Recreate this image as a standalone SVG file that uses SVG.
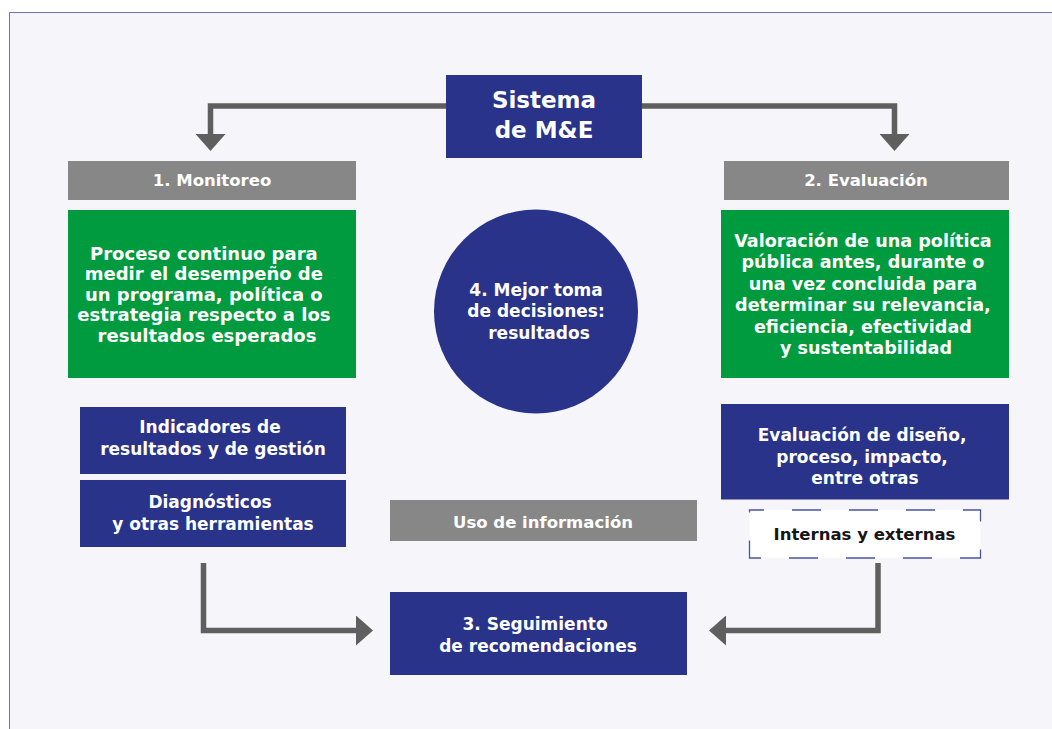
<svg xmlns="http://www.w3.org/2000/svg" width="1052" height="729" viewBox="0 0 1052 729">
<defs>
<style>
.navy{fill:#283389}
.green{fill:#009b3e}
.grayh{fill:#878787}
.t{font-family:"DejaVu Sans","Liberation Sans",sans-serif;font-weight:bold;fill:#ffffff;text-anchor:middle}
.dark{fill:#161616}
.conn{fill:none;stroke:#5f5f5f;stroke-width:5.5;stroke-linejoin:miter}
</style>
<marker id="ah" markerUnits="userSpaceOnUse" markerWidth="18" markerHeight="30" refX="0" refY="15" orient="auto">
<path d="M0,0 L17,15 L0,30 Z" fill="#5f5f5f"/>
</marker>
</defs>
<rect x="0" y="0" width="1052" height="729" fill="#ffffff"/>
<rect x="9" y="12" width="1043" height="717" fill="#f5f5fa"/>
<path d="M9.5,729 V12.5 H1052" fill="none" stroke="#6a72bb" stroke-width="1"/>

<g id="connectors">
<path class="conn" d="M446,106 H210.5 V134" marker-end="url(#ah)"/>
<path class="conn" d="M642,106 H894.5 V134" marker-end="url(#ah)"/>
<path class="conn" d="M203.5,563 V630.5 H356" marker-end="url(#ah)"/>
<path class="conn" d="M878,563 V630.5 H726" marker-end="url(#ah)"/>
</g>

<g id="sistema">
<rect class="navy" x="446" y="75" width="196" height="83"/>
<text class="t" x="544" y="108" font-size="23">Sistema</text>
<text class="t" x="544" y="138" font-size="23">de M&amp;E</text>
</g>

<g id="monitoreo-header">
<rect class="grayh" x="68" y="161" width="288" height="39"/>
<text class="t" x="212" y="186" font-size="16.5">1. Monitoreo</text>
</g>

<g id="evaluacion-header">
<rect class="grayh" x="724" y="161" width="285" height="39"/>
<text class="t" x="866" y="186" font-size="16.5">2. Evaluación</text>
</g>

<g id="monitoreo-def">
<rect class="green" x="68" y="210" width="288" height="168"/>
<text class="t" font-size="18">
<tspan x="207" y="260">Proceso continuo para</tspan>
<tspan x="207" y="280.4">medir el desempeño de</tspan>
<tspan x="207" y="300.8">un programa, política o</tspan>
<tspan x="207" y="321.2">estrategia respecto a los</tspan>
<tspan x="207" y="341.6">resultados esperados</tspan>
</text>
</g>

<g id="evaluacion-def">
<rect class="green" x="721" y="210" width="288" height="168"/>
<text class="t" font-size="17.6">
<tspan x="866" y="246.7">Valoración de una política</tspan>
<tspan x="866" y="268.2">pública antes, durante o</tspan>
<tspan x="866" y="289.7">una vez concluida para</tspan>
<tspan x="866" y="311.2">determinar su relevancia,</tspan>
<tspan x="866" y="332.7">eficiencia, efectividad</tspan>
<tspan x="866" y="354.2">y sustentabilidad</tspan>
</text>
</g>

<g id="decisiones">
<circle class="navy" cx="536" cy="311.5" r="102"/>
<text class="t" font-size="17">
<tspan x="539" y="296">4. Mejor toma</tspan>
<tspan x="539" y="317.3">de decisiones:</tspan>
<tspan x="539" y="338.5">resultados</tspan>
</text>
</g>

<g id="indicadores">
<rect class="navy" x="80" y="407" width="266" height="67"/>
<text class="t" font-size="17">
<tspan x="213" y="432.7">Indicadores de</tspan>
<tspan x="213" y="455">resultados y de gestión</tspan>
</text>
</g>

<g id="diagnosticos">
<rect class="navy" x="80" y="480" width="266" height="67"/>
<text class="t" font-size="17">
<tspan x="213" y="507.7">Diagnósticos</tspan>
<tspan x="213" y="530">y otras herramientas</tspan>
</text>
</g>

<g id="tipos-evaluacion">
<rect class="navy" x="721" y="404" width="288" height="95.5"/>
<text class="t" font-size="17">
<tspan x="865" y="441">Evaluación de diseño,</tspan>
<tspan x="865" y="462.5">proceso, impacto,</tspan>
<tspan x="865" y="484">entre otras</tspan>
</text>
</g>

<g id="internas-externas">
<rect x="749.5" y="510" width="231" height="48" fill="#ffffff" stroke="#4a53a6" stroke-width="1.3" stroke-dasharray="29 28" stroke-dashoffset="14.5"/>
<text class="t dark" x="864.5" y="540" font-size="16.5">Internas y externas</text>
</g>

<g id="uso-informacion">
<rect class="grayh" x="390" y="500" width="307" height="41"/>
<text class="t" x="543" y="527.5" font-size="16.5">Uso de información</text>
</g>

<g id="seguimiento">
<rect class="navy" x="390" y="592" width="297" height="83"/>
<text class="t" font-size="17">
<tspan x="538" y="630">3. Seguimiento</tspan>
<tspan x="538" y="651.5">de recomendaciones</tspan>
</text>
</g>
</svg>
